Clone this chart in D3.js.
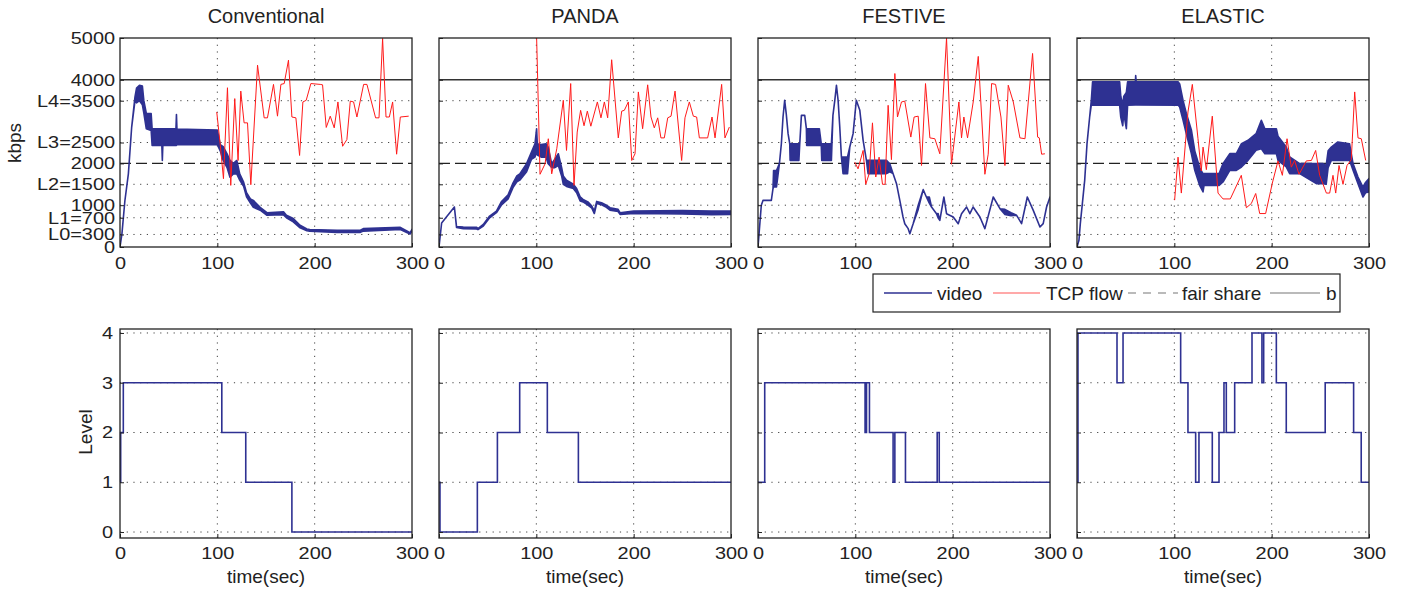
<!DOCTYPE html>
<html><head><meta charset="utf-8">
<script src="https://cdn.jsdelivr.net/npm/d3@7"></script>
<style>
body{margin:0;background:#fff}
text{font-family:"Liberation Sans",Arial,Helvetica,sans-serif;fill:#222}
</style></head><body>
<svg id="c" width="1413" height="591"></svg>
<script>
// ---------- data ----------
const schemes = ["Conventional","PANDA","FESTIVE","ELASTIC"];
const timeTicks = [0,100,200,300];
const kbpsTicks = [0,300,700,1000,1500,2000,2500,3500,4000,5000];
const kbpsTickLabels = ["0","L0=300","L1=700","1000","L2=1500","2000","L3=2500","L4=3500","4000","5000"];
const levelTicks = [0,1,2,3,4];
const fairShare = 2000;
const bottleneck = 4000;
const legendLabels = ["video","TCP flow","fair share","b"];

// video throughput envelope: [time, low, high] (kbps)
const videoConventional = [[0,0,0],[2,320,320],[5,1100,1100],[8.6,1750,1750],[12,2870,2870],[15.4,3500,3590],[17,3450,3800],[20,3500,3870],[23,3400,3850],[24.5,3200,3500],[27,2830,3200],[32,2790,3190],[33,2430,2830],[43,2430,2830],[43.5,2070,2830],[44,2430,2830],[57.5,2430,2830],[58,2430,3170],[58.5,2450,2820],[100,2450,2800],[103,2300,2450],[106,2070,2400],[110,1900,2230],[113,1670,2070],[116.5,1750,2000],[120,1750,2070],[123,1600,1750],[127,1450,1550],[130,1200,1300],[134,1050,1150],[137,950,1115],[144,880,950],[151,760,820],[168,770,840],[171,700,760],[178,600,680],[185,460,520],[192,390,430],[195,380,420],[223,350,400],[247,350,400],[250,380,440],[288,420,470],[298,310,340],[300,380,420]];
const videoPanda = [[0,0,0],[2.7,574,574],[15.8,957,957],[18,470,490],[25,440,480],[38.7,430,470],[40,415,440],[45.5,500,540],[52,700,740],[59,820,860],[64,1000,1080],[71,1150,1250],[76,1420,1530],[80,1560,1700],[83,1600,1750],[90,1800,1995],[95,2100,2270],[98.6,2150,2470],[100.3,2300,2830],[101,2200,2470],[105,2150,2450],[110,2150,2470],[112,2000,2400],[115.8,1900,1990],[119,1900,2100],[122.6,1950,2230],[126,1700,1900],[127.7,1500,1700],[131,1450,1600],[138,1400,1500],[141.4,1300,1400],[145,1100,1200],[148,1080,1140],[153,1000,1080],[157,930,980],[159.6,800,860],[162,1040,1090],[167,1010,1060],[172,950,1000],[175.7,880,940],[184,850,900],[186,780,820],[200,800,860],[250,790,870],[280,770,860],[300,780,860]];
const videoFestive = [[0,0,0],[3.4,1000,1000],[5.1,1115,1115],[13.7,1115,1115],[15.4,1395,1395],[16,1435,1830],[19,1435,1830],[22,1995,1995],[24,2470,2470],[25.7,3110,3110],[27.4,3509,3509],[29,3190,3190],[30.9,2711,2711],[32.6,2470,2470],[33,2073,2470],[42,2073,2470],[42.9,2470,2470],[44.6,3150,3150],[48,3150,3150],[49.7,2830,2830],[50,2430,2830],[63,2430,2830],[65,2430,2470],[65.5,2073,2470],[75.4,2073,2470],[77,3150,3150],[78.9,3509,3509],[80.6,3868,3868],[82.3,3509,3509],[84,2870,2870],[85.7,2153,2153],[87.4,1754,2153],[92,1754,2153],[94.3,2392,2392],[97.7,2711,2711],[101,3509,3509],[104.6,3270,3270],[108,2552,2552],[111.4,2073,2073],[113.1,1754,2073],[132,1754,2073],[135.4,1800,1990],[138.8,1754,1754],[142.3,1515,1515],[145.7,1116,1116],[149,718,718],[150.8,558,558],[154.3,439,439],[156,319,319],[159.4,558,558],[164.6,900,1000],[169.7,1372,1372],[173,1196,1196],[176,1050,1196],[178.3,957,957],[183.4,797,797],[185,700,800],[186.8,638,638],[191,1196,1196],[193.7,797,797],[200.6,718,718],[205.7,558,558],[209.1,797,797],[214.3,957,957],[217.7,797,797],[221,957,957],[228,718,718],[233.1,439,439],[241.7,1196,1196],[248.6,917,917],[253.7,780,900],[260,750,820],[265.7,758,758],[270.8,558,558],[276.7,1196,1196],[282.8,877,877],[289.7,478,478],[293,558,558],[296.5,957,957],[300,1196,1196]];
const videoElastic = [[0,0,0],[2,160,160],[3.4,558,558],[5.5,1037,1037],[7.9,1595,1595],[10.3,2472,2472],[13,3110,3110],[14.7,3400,3509],[16,3390,3950],[43.8,3390,3950],[45,3100,3600],[47,2900,3400],[48,3200,3600],[50.7,2830,3700],[52,3390,3950],[60,3400,3950],[60.3,3400,4100],[60.8,3400,3950],[104,3390,3950],[105.5,3350,3900],[109,3030,3500],[112.3,2711,3200],[117.5,2233,2800],[121,1834,2300],[126,1475,1900],[129.5,1316,1750],[130.5,1475,1755],[146,1475,1755],[150,1555,1994],[157,1834,2233],[163.7,1834,2233],[169,1914,2472],[175.7,2073,2552],[184,2313,2711],[189.4,2350,3030],[193,2233,2830],[204.8,2233,2830],[206.5,2073,2650],[215,1914,2392],[218.5,1754,2153],[228.8,1754,1994],[245.9,1515,1994],[252.7,1515,1994],[256,1500,1950],[258,1900,2300],[261.3,2073,2392],[268,2073,2512],[280,2073,2472],[283.6,1834,1994],[288.7,1515,1675],[293.8,1196,1435],[296.6,1300,1550],[300,1316,1635]];

// competing TCP flow throughput: [time, kbps]
const tcpConventional = [[99.4,3230],[102.9,2470],[106.3,1635],[110.4,3810],[113.8,1475],[117.9,3550],[121.3,2070],[124.1,3730],[127.5,2970],[131,2970],[134.4,1490],[141.3,4350],[148.1,3090],[151.5,3090],[157.7,3890],[161.8,3130],[165.3,3890],[168.7,3910],[173.1,4470],[176.6,3110],[180.7,3090],[184.5,2190],[187.9,3470],[191.3,3510],[196.1,3910],[205.7,3890],[208.1,3880],[211.9,2860],[216,3130],[220.1,2850],[223.9,3470],[228.7,2410],[233.1,2570],[236.6,3490],[240,3470],[243.4,3110],[250.3,3890],[253.7,3890],[262.6,3090],[266.1,3090],[269.8,4990],[273.3,3110],[276.7,3110],[280.1,3470],[284.2,2220],[288,3110],[296.6,3130]];
const tcpPanda = [[100.3,5000],[103.8,1740],[109,1990],[112.3,2590],[115.8,1750],[121,2350],[127.7,3510],[131,2310],[135.3,3910],[138.7,1475],[142,2750],[145.5,3270],[149,2900],[152.4,3250],[156,2890],[162.7,3470],[166.4,3090],[169.9,3470],[173.3,3090],[177.4,4480],[184.2,2610],[187.7,3250],[190.4,3270],[194.5,3470],[198,2070],[201.4,2230],[204.8,3710],[209.2,2830],[214.4,3880],[217.8,3110],[221.2,2850],[224.7,3090],[228,2610],[231.5,2610],[235,3090],[238.4,3130],[242.5,3730],[249.3,2070],[252.7,3090],[257.2,3470],[261.3,3130],[264.7,3110],[267.5,2610],[276,2610],[280.5,3110],[283.6,2610],[290.4,3890],[293.8,2610],[298.3,2870]];
const tcpFestive = [[99.4,2030],[102.8,1870],[108,2310],[110.7,1500],[114.2,1750],[117.6,2970],[121,1675],[124.4,2150],[127.9,1500],[130.6,1500],[133.7,3390],[137.1,2090],[140.6,4150],[143.3,3110],[147.4,3470],[150.8,3490],[157,2630],[160.4,3110],[164.6,3130],[168,1950],[172.1,3910],[176.6,2610],[181.7,2590],[186.8,2230],[193.7,5000],[198.8,1980],[206.4,3470],[209.1,2610],[211.5,3110],[215.3,2610],[221.1,3470],[226.3,4560],[233.1,1740],[236.5,2220],[240,3910],[244.1,3890],[249.6,3110],[253.7,1950],[257.1,3870],[262.3,3470],[269.1,2610],[274.3,2590],[282.1,4630],[287.3,2630],[289,2610],[291.4,2220],[294.8,2230]];
const tcpElastic = [[100.3,1120],[103.8,2150],[107.2,1290],[114,3230],[118.5,3890],[124.3,2590],[127.7,1820],[129.5,2390],[132.9,1850],[139,3130],[144.9,1290],[150,1150],[157.5,1150],[168.8,1715],[174,940],[179.1,1040],[183.6,1280],[187.7,800],[193.8,800],[200.7,1530],[206.5,2060],[211,1715],[215.8,2590],[220.2,1910],[223.6,2070],[228.1,1740],[235.6,2060],[240.8,2070],[245.2,2310],[249.3,1715],[256.2,1290],[259.6,1290],[263,1715],[265.8,1290],[269.2,1950],[273.3,1500],[277.4,1950],[281.8,2090],[285.3,3710],[288.7,2610],[292.1,2590],[296.6,2070]];

// selected quality level: [time, level] (step after)
const levelConventional = [[0,1],[0.7,2],[3.4,3],[104.6,2],[129.2,1],[176.6,0],[300,0]];
const levelPanda = [[0,1],[1,0],[39.4,1],[60,2],[82.9,3],[111.3,2],[143.2,1],[300,1]];
const levelFestive = [[0,1],[6.9,3],[110,2],[111.5,3],[114.5,2],[138.8,1],[140.6,2],[151.5,1],[184.1,2],[186.2,1],[300,1]];
const levelElastic = [[0,1],[1,4],[41.1,3],[47.3,4],[106.5,3],[114,2],[121.9,1],[125.3,2],[139,1],[145.9,2],[151,3],[153.4,2],[162,3],[179.8,4],[190,3],[191.8,4],[204.8,3],[215,2],[255,3],[284.2,2],[292,1],[300,1]];

const videoSeries = [videoConventional, videoPanda, videoFestive, videoElastic];
const tcpSeries = [tcpConventional, tcpPanda, tcpFestive, tcpElastic];
const levelSeries = [levelConventional, levelPanda, levelFestive, levelElastic];

// ---------- drawing ----------
const svg = d3.select("#c");
const NAVY = "#2e3192", RED = "#ff1a1a", INK = "#222";
const W = 292, H = 209, TOP1 = 38, TOP2 = 329, FS = 17, SX = 1.17;
const lefts = [120, 439, 758, 1077];

function styleTicks(g, fs) {
  g.select(".domain").remove();
  g.selectAll(".tick line").attr("stroke", INK);
  g.selectAll(".tick text").attr("font-size", fs).attr("fill", INK)
    .style("font-family", '"Liberation Sans",Arial,sans-serif');
}

schemes.forEach((name, i) => {
  const L = lefts[i];
  const x = d3.scaleLinear().domain([0, 300]).range([L, L + W]);
  const yT = d3.scaleLinear().domain([0, 5000]).range([TOP1 + H, TOP1]);
  const yB = d3.scaleLinear().domain([-0.12, 4.08]).range([TOP2 + H, TOP2]);

  // title
  svg.append("text").attr("x", L + W / 2).attr("y", 23).attr("text-anchor", "middle")
    .attr("font-size", 20).text(name);

  // ---------- top panel ----------
  const clipId = "clipT" + i;
  svg.append("clipPath").attr("id", clipId).append("rect")
    .attr("x", L).attr("y", TOP1).attr("width", W).attr("height", H);
  const gT = svg.append("g");
  gT.selectAll(".hg").data(kbpsTicks.filter(v => v !== fairShare && v !== bottleneck && v !== 0 && v !== 5000))
    .join("line").attr("x1", L).attr("x2", L + W).attr("y1", d => yT(d)).attr("y2", d => yT(d))
    .attr("stroke", "#444").attr("stroke-width", 1).attr("stroke-dasharray", "1.2,5.5");
  gT.selectAll(".vg").data([100, 200]).join("line")
    .attr("x1", d => x(d)).attr("x2", d => x(d)).attr("y1", TOP1).attr("y2", TOP1 + H)
    .attr("stroke", "#444").attr("stroke-width", 1).attr("stroke-dasharray", "1.2,5.5");
  gT.append("line").attr("x1", x(0)).attr("x2", x(300)).attr("y1", yT(fairShare)).attr("y2", yT(fairShare))
    .attr("stroke", INK).attr("stroke-width", 1.1).attr("stroke-dasharray", "11,5");
  gT.append("line").attr("x1", x(0)).attr("x2", x(300)).attr("y1", yT(bottleneck)).attr("y2", yT(bottleneck))
    .attr("stroke", "#333").attr("stroke-width", 1.4);
  const area = d3.area().x(d => x(d[0])).y0(d => yT(d[1])).y1(d => yT(d[2]));
  gT.append("path").attr("clip-path", `url(#${clipId})`).datum(videoSeries[i]).attr("d", area)
    .attr("fill", NAVY).attr("stroke", NAVY).attr("stroke-width", 1.6).attr("stroke-linejoin", "round");
  const line = d3.line().x(d => x(d[0])).y(d => yT(d[1]));
  gT.append("path").attr("clip-path", `url(#${clipId})`).datum(tcpSeries[i]).attr("d", line)
    .attr("fill", "none").attr("stroke", RED).attr("stroke-width", 1);
  const axX = gT.append("g").attr("transform", `translate(0,${TOP1 + H})`)
    .call(d3.axisBottom(x).tickValues(timeTicks).tickSizeInner(-4).tickSizeOuter(0).tickPadding(10));
  styleTicks(axX, FS);
  axX.selectAll(".tick text").attr("transform", `scale(${SX},1)`);
  const axY = gT.append("g").attr("transform", `translate(${L},0)`)
    .call(d3.axisLeft(yT).tickValues(kbpsTicks).tickFormat((d, k) => i === 0 ? kbpsTickLabels[k] : "")
      .tickSizeInner(-4).tickSizeOuter(0).tickPadding(5));
  styleTicks(axY, FS);
  axY.selectAll(".tick text").attr("x", -5 / SX).attr("transform", `scale(${SX},1)`);
  gT.append("rect").attr("x", L).attr("y", TOP1).attr("width", W).attr("height", H)
    .attr("fill", "none").attr("stroke", INK).attr("stroke-width", 1.3);

  // ---------- bottom panel ----------
  const gB = svg.append("g");
  gB.selectAll(".hg").data(levelTicks).join("line")
    .attr("x1", L).attr("x2", L + W).attr("y1", d => yB(d)).attr("y2", d => yB(d))
    .attr("stroke", "#444").attr("stroke-width", 1).attr("stroke-dasharray", "1.2,5.5");
  gB.selectAll(".vg").data([100, 200]).join("line")
    .attr("x1", d => x(d)).attr("x2", d => x(d)).attr("y1", TOP2).attr("y2", TOP2 + H)
    .attr("stroke", "#444").attr("stroke-width", 1).attr("stroke-dasharray", "1.2,5.5");
  const step = d3.line().curve(d3.curveStepAfter).x(d => x(d[0])).y(d => yB(d[1]));
  gB.append("path").datum(levelSeries[i]).attr("d", step)
    .attr("fill", "none").attr("stroke", NAVY).attr("stroke-width", 1.6);
  const bX = gB.append("g").attr("transform", `translate(0,${TOP2 + H})`)
    .call(d3.axisBottom(x).tickValues(timeTicks).tickSizeInner(-4).tickSizeOuter(0).tickPadding(9));
  styleTicks(bX, FS);
  bX.selectAll(".tick text").attr("transform", `scale(${SX},1)`);
  const bY = gB.append("g").attr("transform", `translate(${L},0)`)
    .call(d3.axisLeft(yB).tickValues(levelTicks).tickFormat(d => i === 0 ? d : "")
      .tickSizeInner(-4).tickSizeOuter(0).tickPadding(7));
  styleTicks(bY, FS);
  bY.selectAll(".tick text").attr("x", -7 / SX).attr("transform", `scale(${SX},1)`);
  gB.append("rect").attr("x", L).attr("y", TOP2).attr("width", W).attr("height", H)
    .attr("fill", "none").attr("stroke", INK).attr("stroke-width", 1.3);

  svg.append("text").attr("x", L + W / 2).attr("y", 583).attr("text-anchor", "middle")
    .attr("font-size", 19).text("time(sec)");
});

svg.append("text").attr("transform", "translate(21,143) rotate(-90)").attr("text-anchor", "middle")
  .attr("font-size", 19).text("kbps");
svg.append("text").attr("transform", "translate(92,432) rotate(-90)").attr("text-anchor", "middle")
  .attr("font-size", 19).text("Level");

// legend
const lg = svg.append("g");
lg.append("rect").attr("x", 873).attr("y", 274).attr("width", 467).attr("height", 38)
  .attr("fill", "#fff").attr("stroke", INK).attr("stroke-width", 1.2);
const legendItems = [
  {x1: 884, x2: 932, tx: 937, color: NAVY, dash: null, w: 1.5},
  {x1: 993, x2: 1040, tx: 1046, color: "#ff5555", dash: null, w: 1.2},
  {x1: 1128, x2: 1178, tx: 1182, color: "#777", dash: "8,7", w: 1.2},
  {x1: 1270, x2: 1320, tx: 1326, color: "#777", dash: null, w: 1.2}
];
legendItems.forEach((it, k) => {
  lg.append("line").attr("x1", it.x1).attr("x2", it.x2).attr("y1", 293).attr("y2", 293)
    .attr("stroke", it.color).attr("stroke-width", it.w).attr("stroke-dasharray", it.dash);
  lg.append("text").attr("x", it.tx).attr("y", 299.5).attr("font-size", 19).text(legendLabels[k]);
});
</script>
</body></html>
